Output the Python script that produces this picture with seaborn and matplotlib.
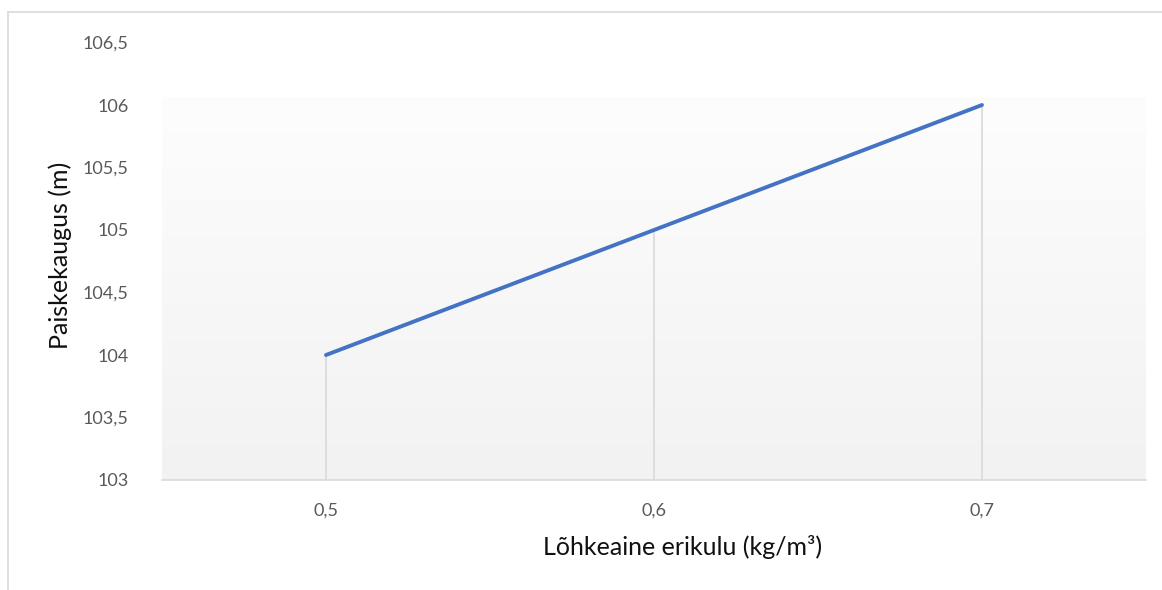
import numpy as np
import pandas as pd
import matplotlib
matplotlib.use("Agg")
import matplotlib.pyplot as plt
from matplotlib.lines import Line2D
import seaborn as sns

# Data
erikulu = [0.5, 0.6, 0.7]
paiskekaugus = [104.0, 105.0, 106.0]
y_ticks = [103, 103.5, 104, 104.5, 105, 105.5, 106, 106.5]
y_tick_labels = ["103", "103,5", "104", "104,5", "105", "105,5", "106", "106,5"]
x_tick_labels = ["0,5", "0,6", "0,7"]

sns.set_theme(style="white")
plt.rcParams["font.family"] = ["Lato", "DejaVu Sans"]

W, H = 1162, 590
fig = plt.figure(figsize=(W / 100, H / 100), dpi=100)
fig.patch.set_facecolor("white")

# Axes placed in pixel units
left_px, right_px, top_px, bottom_px = 162, 1146, 42.5, 480
ax = fig.add_axes([left_px / W, 1 - bottom_px / H,
                   (right_px - left_px) / W, (bottom_px - top_px) / H])
ax.set_xlim(0.45, 0.75)
ax.set_ylim(103, 106.5)

# Soft vertical gradient behind the data
grad = np.linspace(0, 1, 256).reshape(-1, 1)
ax.imshow(grad, extent=[0.45, 0.75, 103, 106.06], aspect="auto",
          cmap=matplotlib.colors.LinearSegmentedColormap.from_list(
              "bg", ["#f2f2f2", "#fdfdfd"]),
          origin="lower", zorder=0, interpolation="bicubic")

# Drop lines from each point to the category axis
ax.vlines(erikulu, 103, paiskekaugus, color="#d9d9d9", lw=1.2, zorder=1)

df = pd.DataFrame({"x": erikulu, "y": paiskekaugus})
sns.lineplot(data=df, x="x", y="y", ax=ax, color="#4472C4", lw=2.8,
             solid_capstyle="round", zorder=3)

for s in ["top", "right", "left"]:
    ax.spines[s].set_visible(False)
ax.spines["bottom"].set_color("#d9d9d9")
ax.spines["bottom"].set_linewidth(1.2)

ax.set_xticks(erikulu)
ax.set_xticklabels(x_tick_labels)
ax.set_yticks(y_ticks)
ax.set_yticklabels(y_tick_labels)
ax.tick_params(axis="both", length=0, labelsize=13, labelcolor="#595959")
ax.tick_params(axis="y", pad=24)
ax.tick_params(axis="x", pad=16)

ax.set_xlabel("Lõhkeaine erikulu (kg/m³)", fontsize=18, color="#111111", va="center")
ax.set_ylabel("Paiskekaugus (m)", fontsize=18, color="#111111", va="center")
ax.xaxis.set_label_coords(0.529, -0.153)
ax.yaxis.set_label_coords(-0.1037, 0.514)

# Chart frame (left and top edges)
fig.add_artist(Line2D([8 / W, 8 / W], [0, 1 - 12 / H], color="#d9d9d9", lw=1.2))
fig.add_artist(Line2D([8 / W, 1], [1 - 12 / H, 1 - 12 / H], color="#d9d9d9", lw=1.2))

fig.savefig("out.png", dpi=100)
